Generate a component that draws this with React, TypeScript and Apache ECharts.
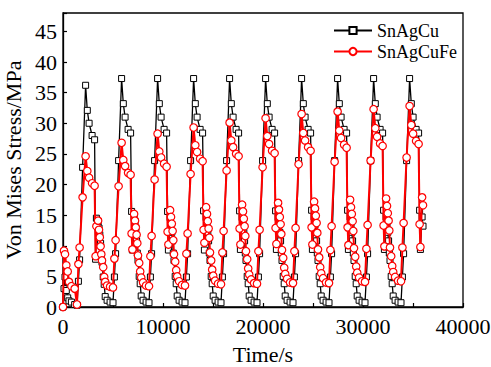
import React, { useEffect, useRef } from "react";
import * as echarts from "echarts";

// Time (s) of every output step
const timeS = [
  0, 100, 200, 330, 470, 600, 840, 1170,
  1400, 1540, 1660, 1960, 2260, 2430, 2610, 2910, 3160, 3260, 3340, 3510, 3600, 3680, 3760, 3830, 3900, 4020, 4120, 4220, 4410, 4710,
  5000, 5140, 5260, 5560, 5860, 6030, 6210, 6510, 6760, 6860, 6940, 7110, 7200, 7280, 7360, 7430, 7500, 7620, 7720, 7820, 8010, 8310,
  8600, 8740, 8860, 9160, 9460, 9630, 9810, 10110, 10360, 10460, 10540, 10710, 10800, 10880, 10960, 11030, 11100, 11220, 11320, 11420, 11610, 11910,
  12200, 12340, 12460, 12760, 13060, 13230, 13410, 13710, 13960, 14060, 14140, 14310, 14400, 14480, 14560, 14630, 14700, 14820, 14920, 15020, 15210, 15510,
  15800, 15940, 16060, 16360, 16660, 16830, 17010, 17310, 17560, 17660, 17740, 17910, 18000, 18080, 18160, 18230, 18300, 18420, 18520, 18620, 18810, 19110,
  19400, 19540, 19660, 19960, 20260, 20430, 20610, 20910, 21160, 21260, 21340, 21510, 21600, 21680, 21760, 21830, 21900, 22020, 22120, 22220, 22410, 22710,
  23000, 23140, 23260, 23560, 23860, 24030, 24210, 24510, 24760, 24860, 24940, 25110, 25200, 25280, 25360, 25430, 25500, 25620, 25720, 25820, 26010, 26310,
  26600, 26740, 26860, 27160, 27460, 27630, 27810, 28110, 28360, 28460, 28540, 28710, 28800, 28880, 28960, 29030, 29100, 29220, 29320, 29420, 29610, 29910,
  30200, 30340, 30460, 30760, 31060, 31230, 31410, 31710, 31960, 32060, 32140, 32310, 32400, 32480, 32560, 32630, 32700, 32820, 32920, 33020, 33210, 33510,
  33800, 33940, 34060, 34360, 34660, 34830, 35010, 35310, 35560, 35660, 35740, 35910, 36000,
];

// Von Mises stress (MPa), SnAgCu
const snAgCu = [
  0, 3.0, 4.9, 2.7, 1.5, 1.0, 0.8, 0.4,
  0.3, 4.2, 7.7, 22.8, 36.2, 32.1, 30.0, 28.0, 27.3, 7.8, 14.5, 13.9, 12.9, 11.8, 10.4, 8.5, 7.3, 4.9, 3.7, 1.7, 1.1, 0.8,
  0.7, 4.9, 8.7, 23.9, 37.3, 33.2, 31.0, 29.0, 28.4, 15.6, 9.3, 14.6, 13.4, 12.2, 10.8, 8.8, 7.6, 5.0, 3.8, 1.8, 1.1, 0.8,
  0.7, 4.9, 8.7, 23.9, 37.3, 33.2, 31.0, 29.0, 28.4, 15.6, 9.3, 14.6, 13.4, 12.2, 10.8, 8.8, 7.6, 5.0, 3.8, 1.8, 1.1, 0.8,
  0.7, 4.9, 8.7, 23.9, 37.3, 33.2, 31.0, 29.0, 28.4, 15.7, 9.3, 14.6, 13.4, 12.2, 10.8, 8.8, 7.6, 5.0, 3.8, 1.8, 1.1, 0.8,
  0.7, 4.9, 8.7, 23.9, 37.3, 33.2, 31.0, 29.0, 28.4, 15.7, 9.4, 14.6, 13.4, 12.2, 10.8, 8.8, 7.6, 5.0, 3.8, 1.8, 1.1, 0.8,
  0.7, 4.9, 8.7, 23.9, 37.3, 33.2, 31.0, 29.0, 28.4, 15.7, 9.4, 14.6, 13.4, 12.2, 10.8, 8.8, 7.6, 5.0, 3.8, 1.8, 1.1, 0.8,
  0.7, 4.9, 8.7, 23.9, 37.3, 33.2, 31.0, 29.0, 28.4, 15.8, 9.4, 14.7, 13.4, 12.2, 10.8, 8.8, 7.6, 5.0, 3.8, 1.8, 1.1, 0.8,
  0.7, 4.9, 8.7, 23.9, 37.3, 33.2, 31.0, 29.0, 28.4, 15.8, 9.4, 14.7, 13.4, 12.2, 10.8, 8.8, 7.6, 5.0, 3.8, 1.8, 1.1, 0.8,
  0.7, 4.9, 8.7, 23.9, 37.3, 33.2, 31.0, 29.0, 28.4, 15.8, 9.4, 14.7, 13.4, 12.2, 10.8, 8.8, 7.6, 5.0, 3.8, 1.8, 1.1, 0.8,
  0.7, 4.9, 8.7, 23.9, 37.3, 33.2, 31.0, 29.0, 28.4, 15.8, 9.4, 14.7, 13.2,
];

// Von Mises stress (MPa), SnAgCuFe
const snAgCuFe = [
  0, 9.2, 8.6, 6.8, 5.8, 4.1, 3.4, 3.0,
  0.4, 7.0, 9.7, 17.9, 24.6, 22.2, 21.1, 20.2, 19.8, 8.3, 13.2, 14.1, 12.6, 11.4, 9.9, 8.6, 7.6, 6.5, 4.9, 4.1, 3.5, 3.3,
  3.2, 7.9, 10.9, 19.7, 26.8, 24.0, 23.0, 21.9, 21.6, 12.0, 9.4, 15.2, 14.1, 13.0, 11.8, 10.4, 8.4, 7.2, 5.8, 4.8, 4.0, 3.5,
  3.4, 8.3, 11.6, 20.8, 28.3, 25.4, 24.4, 23.4, 22.9, 12.3, 10.2, 15.8, 14.7, 13.6, 12.4, 10.9, 8.6, 7.4, 6.0, 5.0, 4.2, 3.6,
  3.5, 8.7, 12.0, 21.7, 29.3, 26.4, 25.3, 24.2, 23.8, 12.6, 10.5, 16.3, 15.2, 14.0, 12.8, 11.3, 8.9, 7.6, 6.1, 5.1, 4.3, 3.8,
  3.7, 8.9, 12.4, 22.3, 30.1, 27.2, 26.1, 25.0, 24.6, 12.8, 10.2, 16.7, 15.6, 14.4, 13.2, 11.6, 9.1, 7.8, 6.3, 5.3, 4.5, 3.9,
  3.8, 9.1, 12.6, 22.8, 30.8, 27.9, 26.6, 25.5, 25.1, 12.9, 10.3, 17.0, 15.9, 14.7, 13.5, 11.9, 9.3, 8.0, 6.4, 5.4, 4.6, 4.0,
  3.9, 9.1, 12.9, 23.3, 31.5, 28.4, 27.2, 26.1, 25.5, 13.0, 10.2, 17.2, 16.1, 14.9, 13.7, 12.1, 9.4, 8.1, 6.5, 5.5, 4.7, 4.0,
  3.9, 9.3, 13.2, 23.7, 31.9, 28.8, 27.6, 26.5, 26.0, 13.0, 10.1, 17.5, 16.3, 15.2, 14.0, 12.4, 9.6, 8.2, 6.6, 5.6, 4.8, 4.2,
  4.1, 9.5, 13.4, 23.9, 32.3, 29.2, 27.8, 26.7, 26.3, 13.3, 9.9, 17.7, 16.5, 15.3, 14.1, 12.5, 9.7, 8.3, 6.7, 5.7, 4.9, 4.3,
  4.2, 9.7, 13.7, 24.4, 32.8, 29.7, 28.3, 27.1, 26.6, 13.5, 9.8, 17.9, 16.6,
];

const seriesNames = ["SnAgCu", "SnAgCuFe"];
const xTicks = { min: 0, max: 40000, step: 5000, labelStep: 10000 };
const yTicks = { min: 0, max: 48, step: 5 };

const FONT = "Liberation Serif";

export default function App() {
  const ref = useRef<HTMLDivElement>(null);

  useEffect(() => {
    if (!ref.current) return;
    const chart = echarts.init(ref.current, undefined, { renderer: "svg" });
    const pairs = (ys: number[]) => timeS.map((t, i) => [t, ys[i]]);
    const axisText = { fontFamily: FONT, fontSize: 22, color: "#000" };
    chart.setOption({
      animation: false,
      backgroundColor: "#fff",
      textStyle: { fontFamily: FONT },
      grid: {
        left: 63,
        right: 28,
        top: 13,
        bottom: 60,
        outerBoundsMode: "none",
        containLabel: false,
        show: true,
        borderColor: "#000",
        borderWidth: 1.3,
        backgroundColor: "transparent",
      },
      legend: {
        data: seriesNames,
        orient: "vertical",
        left: 328,
        top: 15,
        itemWidth: 38,
        itemHeight: 9,
        itemGap: 0,
        textStyle: { fontFamily: FONT, fontSize: 18, color: "#000", lineHeight: 21 },
      },
      xAxis: {
        type: "value",
        min: xTicks.min,
        max: xTicks.max,
        interval: xTicks.step,
        name: "Time/s",
        nameLocation: "middle",
        nameGap: 36,
        nameTextStyle: { ...axisText },
        axisLine: { lineStyle: { color: "#000", width: 1.3 } },
        axisTick: { inside: true, length: 4, lineStyle: { color: "#000", width: 1.2 } },
        axisLabel: {
          ...axisText,
          margin: 8,
          formatter: (v: number) => (v % xTicks.labelStep === 0 ? String(v) : ""),
        },
        splitLine: { show: false },
      },
      yAxis: {
        type: "value",
        min: yTicks.min,
        max: yTicks.max,
        interval: yTicks.step,
        name: "Von Mises Stress/MPa",
        nameLocation: "middle",
        nameGap: 36,
        nameTextStyle: { ...axisText },
        axisLine: { lineStyle: { color: "#000", width: 1.3 } },
        axisTick: { inside: true, length: 4, lineStyle: { color: "#000", width: 1.2 } },
        axisLabel: {
          ...axisText,
          margin: 6,
          formatter: (v: number) => (v % yTicks.step === 0 ? String(v) : ""),
        },
        splitLine: { show: false },
      },
      series: [
        {
          name: seriesNames[0],
          type: "line",
          data: pairs(snAgCu),
          symbol: "rect",
          symbolSize: 6,
          lineStyle: { color: "#000", width: 1.3 },
          itemStyle: { color: "#fff", borderColor: "#000", borderWidth: 1 },
          z: 2,
        },
        {
          name: seriesNames[1],
          type: "line",
          data: pairs(snAgCuFe),
          symbol: "circle",
          symbolSize: 7.5,
          lineStyle: { color: "#ff0000", width: 2 },
          itemStyle: { color: "#fff", borderColor: "#ff0000", borderWidth: 1.2 },
          z: 3,
        },
      ],
    });
    return () => chart.dispose();
  }, []);

  return (
    <div
      ref={ref}
      style={{ position: "fixed", left: 0, top: 0, width: 491, height: 367, background: "#fff" }}
    />
  );
}
